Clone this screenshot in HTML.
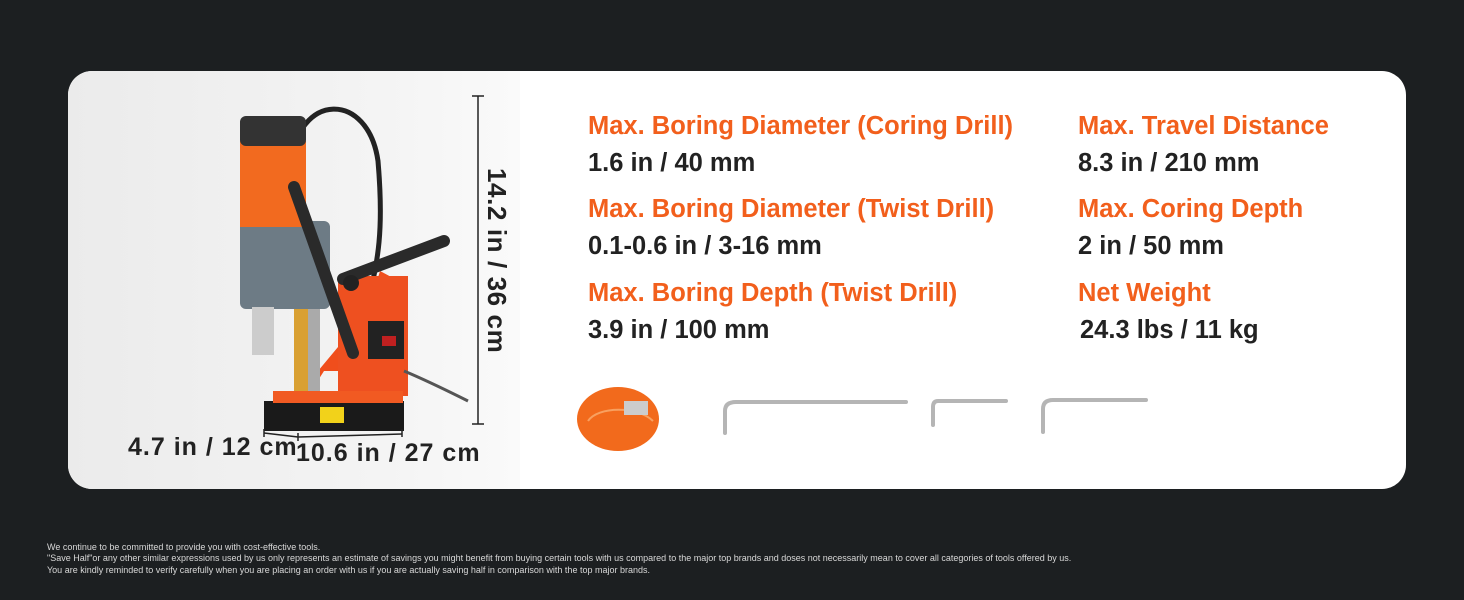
<!DOCTYPE html>
<html><head><style>
html,body{margin:0;padding:0}
body{width:1464px;height:600px;background:#1c1f21;position:relative;overflow:hidden;font-family:"Liberation Sans",Arial,sans-serif}
.card{position:absolute;left:68px;top:71px;width:1338px;height:418px;background:#fff;border-radius:24px;overflow:hidden}
.left{position:absolute;left:0;top:0;width:452px;height:418px;background:linear-gradient(90deg,#ebebeb,#f4f4f4 70%,#fafafa)}
.t{position:absolute;font-weight:bold;font-size:25.5px;white-space:nowrap}
.h{color:#f25f1c}.v{color:#222}
.foot{position:absolute;left:47px;top:542px;color:#d8d8d8;font-size:9px;line-height:11.3px}
</style></head><body>
<div class="card">
<div class="left"></div>
<svg width="1338" height="418" style="position:absolute;left:0;top:0">
<path d="M222 95 C230 20 300 20 310 90 C316 160 310 190 300 230" stroke="#222" stroke-width="5" fill="none"/>
<rect x="196" y="330" width="140" height="30" fill="#1a1a1a"/>
<rect x="252" y="336" width="24" height="16" fill="#f2d21a"/>
<polygon points="240,325 256,300 330,300 340,260 340,215 312,200 300,240 250,300" fill="#f04e1c"/>
<rect x="270" y="205" width="70" height="120" fill="#ee5020"/>
<rect x="205" y="320" width="130" height="12" fill="#f15a22"/>
<rect x="226" y="230" width="22" height="90" fill="#d9a032"/>
<rect x="240" y="170" width="12" height="150" fill="#aaa"/>
<rect x="172" y="150" width="90" height="88" fill="#6d7b85" rx="6"/>
<rect x="184" y="236" width="22" height="48" fill="#ccc"/>
<rect x="172" y="70" width="66" height="86" fill="#f26a1f"/>
<rect x="172" y="45" width="66" height="30" fill="#333" rx="6"/>
<line x1="226" y1="116" x2="285" y2="282" stroke="#2a2a2a" stroke-width="12" stroke-linecap="round"/>
<line x1="275" y1="208" x2="376" y2="170" stroke="#2a2a2a" stroke-width="12" stroke-linecap="round"/>
<circle cx="283" cy="212" r="8" fill="#222"/>
<rect x="300" y="250" width="36" height="38" fill="#222"/>
<rect x="314" y="265" width="14" height="10" fill="#c02020"/>
<path d="M336 300 C360 310 380 320 400 330" stroke="#555" stroke-width="3" fill="none"/>
<g stroke="#222" stroke-width="1.5">
<line x1="410" y1="25" x2="410" y2="353"/><line x1="404" y1="25" x2="416" y2="25"/><line x1="404" y1="353" x2="416" y2="353"/>
<line x1="196" y1="362" x2="230" y2="366"/><line x1="230" y1="366" x2="334" y2="363"/>
<line x1="196" y1="358" x2="196" y2="366"/><line x1="230" y1="362" x2="230" y2="370"/><line x1="334" y1="358" x2="334" y2="366"/>
</g>
<text x="0" y="0" transform="translate(420,97) rotate(90)" font-family="Liberation Sans,Arial,sans-serif" font-weight="bold" font-size="26" letter-spacing="0.6" fill="#222">14.2 in / 36 cm</text>
<text x="60" y="384" font-family="Liberation Sans,Arial,sans-serif" font-weight="bold" font-size="25" letter-spacing="1" fill="#222">4.7 in / 12 cm</text>
<text x="228" y="390" font-family="Liberation Sans,Arial,sans-serif" font-weight="bold" font-size="25" letter-spacing="1" fill="#222">10.6 in / 27 cm</text>
<ellipse cx="550" cy="348" rx="41" ry="32" fill="#f26a1c"/>
<path d="M520 350 C530 335 570 335 585 350" stroke="#f8a060" stroke-width="2" fill="none"/>
<rect x="556" y="330" width="24" height="14" fill="#ccc"/>
<g stroke="#b5b5b5" stroke-width="4" fill="none" stroke-linecap="round">
<path d="M838 331 L668 331 Q657 331 657 340 L657 362"/>
<path d="M938 330 L870 330 Q865 330 865 336 L865 354"/>
<path d="M1078 329 L985 329 Q975 329 975 338 L975 361"/>
</g>
</svg>
<div class="t h" style="left:520px;top:41px">Max. Boring Diameter (Coring Drill)</div>
<div class="t v" style="left:520px;top:78px">1.6 in / 40 mm</div>
<div class="t h" style="left:520px;top:124px">Max. Boring Diameter (Twist Drill)</div>
<div class="t v" style="left:520px;top:161px">0.1-0.6 in / 3-16 mm</div>
<div class="t h" style="left:520px;top:208px">Max. Boring Depth (Twist Drill)</div>
<div class="t v" style="left:520px;top:245px">3.9 in / 100 mm</div>
<div class="t h" style="left:1010px;top:41px">Max. Travel Distance</div>
<div class="t v" style="left:1010px;top:78px">8.3 in / 210 mm</div>
<div class="t h" style="left:1010px;top:124px">Max. Coring Depth</div>
<div class="t v" style="left:1010px;top:161px">2 in / 50 mm</div>
<div class="t h" style="left:1010px;top:208px">Net Weight</div>
<div class="t v" style="left:1012px;top:245px">24.3 lbs / 11 kg</div>
</div>
<div class="foot">We continue to be committed to provide you with cost-effective tools.<br>"Save Half"or any other similar expressions used by us only represents an estimate of savings you might benefit from buying certain tools with us compared to the major top brands and doses not necessarily mean to cover all categories of tools offered by us.<br>You are kindly reminded to verify carefully when you are placing an order with us if you are actually saving half in comparison with the top major brands.</div>
</body></html>
